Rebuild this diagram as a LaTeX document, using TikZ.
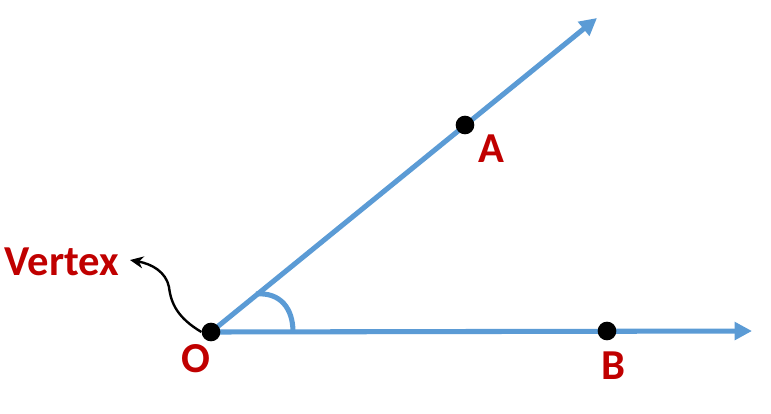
\documentclass[tikz,border=0pt]{standalone}
\usepackage{fontspec}
\setmainfont{Carlito}
\usepackage{tikz}
\usetikzlibrary{arrows.meta}
\definecolor{raycol}{RGB}{91,155,213}
\definecolor{labcol}{RGB}{192,0,0}
\tikzset{
  ray/.style={raycol, line width=3.8pt, -{Triangle[length=13pt,width=13pt]}},
  lab/.style={labcol, font=\fontsize{32}{35}\selectfont\bfseries, inner sep=0pt},
  pt/.style={fill=black, circle, minimum size=14pt, inner sep=0pt}
}
\begin{document}
\begin{tikzpicture}[x=0.75pt,y=-0.75pt]
				\useasboundingbox (0,0) rectangle (771,414);
				\coordinate (O) at (211,332);
				\coordinate (Atip) at (597,18);
				\coordinate (Btip) at (752,331);
				\draw [ray] (O) -- (Atip);
				\draw [ray] (O) -- (Btip);
				\draw [raycol, line width=3.8pt] (256,294) .. controls (280,292) and (293,308) .. (293,332);

				\node [pt] (PO) at (O) {};
				\node [pt] (PA) at (465,125) {};
				\node [pt] (PB) at (607,331) {};

				\node [lab] (A) at (491,149) {A};
				\node [lab] (B) at (613,366) {B};
				\node [lab] (Olab) at (196,359) {O};
				\node [lab] (V) at (62,262) {Vertex};

				\draw [black, line width=1.8pt, -{Stealth[length=10pt,width=9pt]}] (PO.west) .. controls (178,318) and (171,304) .. (169,287) .. controls (166,272) and (152,264) .. (130,260);
			\end{tikzpicture}
\end{document}
